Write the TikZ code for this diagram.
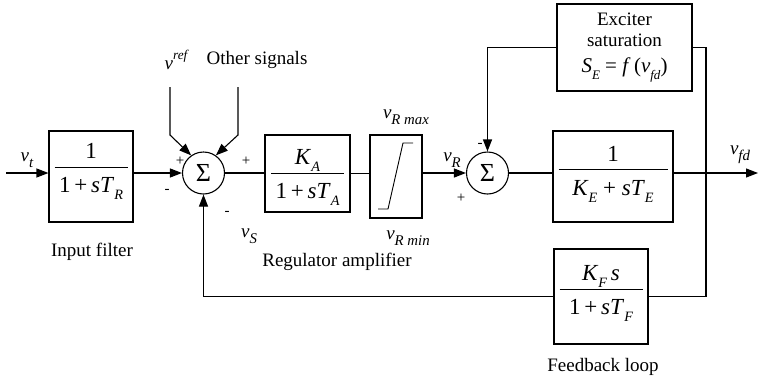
\documentclass[tikz,border=0pt]{standalone}
\usepackage{graphicx}
\usepackage{fontspec}
\setmainfont{Liberation Serif}
\usetikzlibrary{arrows.meta, positioning, calc}
\tikzset{
  blk/.style={draw, line width=1.1pt, inner sep=0pt, font=\fontsize{23}{27}\selectfont},
  sumnode/.style={draw, circle, line width=1.1pt, minimum size=42pt, inner sep=0pt,
                  font=\fontsize{26}{26}\selectfont},
  sig/.style={line width=1.1pt, -{Triangle[length=12pt,width=9pt]}},
  wire/.style={line width=1.1pt},
  lbl/.style={inner sep=0pt},
  sgn/.style={inner sep=0pt, font=\fontsize{15}{15}\selectfont}
}
% italic sub- and superscripts in text
\newcommand{\sub}[2][0.62]{\raisebox{-0.3em}{\scalebox{#1}{\itshape #2}}}
\newcommand{\sups}[1]{\raisebox{0.5em}{\scalebox{0.7}{\itshape #1}}}
% fraction: [bottom pad]{bar width}{numerator}{denominator}
\newcommand{\frc}[4][0pt]{%
  \vbox{\offinterlineskip
    \hbox to #2{\hfil\raisebox{0pt}[16pt][0pt]{#3}\hfil}%
    \kern8pt\hrule height 0.9pt\kern9pt
    \hbox to #2{\hfil\raisebox{0pt}[16pt][0pt]{#4}\hfil}%
    \kern#1}}

\begin{document}
\begin{tikzpicture}[x=1pt, y=-1pt, font=\fontsize{19}{23}\selectfont]
  \useasboundingbox (0,0) rectangle (763,381);
  % blocks
  \node[blk, minimum width=84pt, minimum height=91pt] (filt) at (91,176.5)
    {\frc[18pt]{73pt}{1}{1\,+\,\textit{sT}\sub{R}}};
  \node[sumnode] (s1) at (203.5,173) {Σ};
  \node[blk, minimum width=85pt, minimum height=77pt] (ka) at (307.5,173.5)
    {\frc{73pt}{\textit{K}\sub{A}}{1\,+\,\textit{sT}\sub{A}}};
  \node[blk, minimum width=52pt, minimum height=83pt] (lim) at (396,176.5) {};
  \node[sumnode] (s2) at (487.5,173) {Σ};
  \node[blk, minimum width=120pt, minimum height=91pt] (ke) at (613,176.5)
    {\frc[12.6pt]{109pt}{1}{\textit{K}\sub{E} + \textit{sT}\sub{E}}};
  \node[blk, minimum width=135pt, minimum height=87pt, align=center,
        font=\fontsize{19}{21}\selectfont] (sat) at (624.5,47.5)
    {Exciter\\ saturation\\[5pt] {\fontsize{21}{23}\selectfont\textit{S}\sub{E} = \textit{f}\,(\textit{v}\sub{fd})}};
  \node[blk, minimum width=94pt, minimum height=95pt] (kf) at (601,296.5)
    {\frc[14pt]{83pt}{\textit{K}\sub{F}\,\textit{s}}{1\,+\,\textit{sT}\sub{F}}};

  % limiter characteristic
  \draw[line width=0.9pt] ($(lim.center)+(-18,32.5)$) -- ($(lim.center)+(-8,32.5)$)
    -- ($(lim.center)+(7,-33.5)$) -- ($(lim.center)+(17,-33.5)$);

  % signal paths
  \coordinate (vin) at (6,173);
  \coordinate (vout) at (758,173);
  \coordinate (tap) at (706,173);
  \draw[sig] (vin) -- (vin -| filt.west);
  \draw[sig] (filt.east |- s1) -- (s1.west);
  \foreach \i/\xx/\ang in {1/170/125, 2/238/55} {
    \coordinate (top\i) at (\xx,87);
    \coordinate (bend\i) at (\xx,135);
    \draw[sig] (top\i) -- (bend\i) -- (s1.\ang);
  }
  \draw[wire] (s1.east) -- (s1.east -| ka.west);
  \draw[wire] (ka.east) -- (ka.east -| lim.west);
  \draw[sig] (lim.east |- s2) -- (s2.west);
  \draw[wire] (s2.east) -- (s2.east -| ke.west);
  \draw[sig] (ke.east |- vout) -- (vout);
  \draw[sig] (sat.west) -| (s2.north);
  \draw[wire] (sat.east) -| (tap) |- (kf.east);
  \draw[sig] (kf.west) -| (s1.south);

  % labels
  \node[lbl] (lvt) at (27,160) {\textit{v}\sub[0.78]{t}};
  \node[lbl] (lref) at (176,60) {\textit{v}\sups{ref}};
  \node[lbl] (loth) at (257,60) {Other signals};
  \node[sgn] (p1) at (180,161) {+};
  \node[sgn] (m1) at (167,191) {-};
  \node[sgn] (p2) at (246,161) {+};
  \node[sgn] (m2) at (227,213) {-};
  \node[lbl] (lvs) at (249,236) {\textit{v}\sub[0.78]{S}};
  \node[lbl] (lmax) at (406,117) {\textit{v}\sub[0.78]{R max}};
  \node[lbl] (lmin) at (408,238) {\textit{v}\sub[0.78]{R min}};
  \node[lbl] (lvr) at (452,160) {\textit{v}\sub[0.78]{R}};
  \node[sgn] (m3) at (480,145) {-};
  \node[sgn] (p3) at (461,198) {+};
  \node[lbl] (lvfd) at (740,155) {\textit{v}\sub[0.78]{fd}};
  \node[lbl] (lfilt) at (92,252) {Input filter};
  \node[lbl] (lreg) at (337,262) {Regulator amplifier};
  \node[lbl] (lfb) at (603,367) {Feedback loop};
\end{tikzpicture}
\end{document}
